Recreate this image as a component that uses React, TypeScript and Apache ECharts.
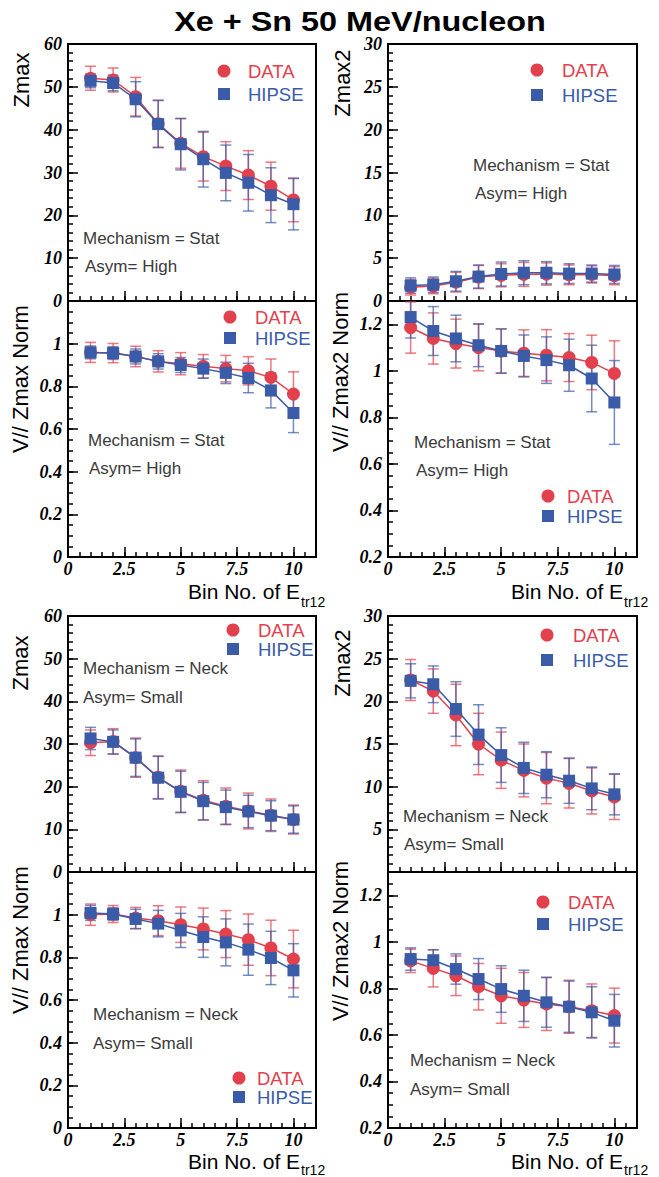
import React, { useEffect, useRef } from 'react';
import * as echarts from 'echarts';

// ---------------- data ----------------
const BINS = [1, 2, 3, 4, 5, 6, 7, 8, 9, 10];
const X_TICK_LABELS = ['0', '2.5', '5', '7.5', '10'];

// Mechanism = Stat, Asym = High
const STAT_ZMAX_DATA = [52.0, 51.6, 47.7, 41.4, 36.8, 33.7, 31.5, 29.4, 26.8, 23.6];
const STAT_ZMAX_DATA_ERR = [2.8, 2.8, 4.5, 5.5, 5.8, 5.7, 5.7, 5.7, 5.6, 5.1];
const STAT_ZMAX_HIPSE = [51.4, 50.9, 47.1, 41.3, 36.6, 33.1, 29.9, 27.6, 24.7, 22.6];
const STAT_ZMAX_HIPSE_ERR = [1.6, 1.8, 4.1, 5.5, 6.0, 6.5, 6.5, 6.6, 6.4, 6.0];

const STAT_VNORM_DATA = [0.959, 0.956, 0.94, 0.917, 0.906, 0.894, 0.883, 0.873, 0.842, 0.764];
const STAT_VNORM_DATA_ERR = [0.047, 0.045, 0.048, 0.05, 0.052, 0.055, 0.062, 0.066, 0.086, 0.104];
const STAT_VNORM_HIPSE = [0.959, 0.956, 0.94, 0.917, 0.9, 0.883, 0.863, 0.839, 0.781, 0.675];
const STAT_VNORM_HIPSE_ERR = [0.03, 0.03, 0.035, 0.036, 0.035, 0.045, 0.05, 0.069, 0.082, 0.092];

const STAT_ZMAX2_DATA = [1.6, 1.75, 2.2, 2.8, 3.0, 3.1, 3.15, 3.05, 3.1, 2.95];
const STAT_ZMAX2_DATA_ERR = [0.9, 0.9, 1.15, 1.35, 1.35, 1.4, 1.3, 1.15, 1.0, 1.05];
const STAT_ZMAX2_HIPSE = [1.8, 1.9, 2.3, 2.85, 3.15, 3.3, 3.3, 3.2, 3.2, 3.1];
const STAT_ZMAX2_HIPSE_ERR = [0.9, 0.9, 1.15, 1.35, 1.4, 1.4, 1.3, 1.15, 1.0, 1.05];

const STAT_VNORM2_DATA = [1.186, 1.139, 1.117, 1.1, 1.085, 1.076, 1.067, 1.057, 1.036, 0.989];
const STAT_VNORM2_DATA_ERR = [0.11, 0.11, 0.105, 0.1, 0.095, 0.1, 0.11, 0.103, 0.117, 0.14];
const STAT_VNORM2_HIPSE = [1.231, 1.171, 1.139, 1.11, 1.085, 1.064, 1.046, 1.024, 0.967, 0.864];
const STAT_VNORM2_HIPSE_ERR = [0.09, 0.105, 0.1, 0.092, 0.095, 0.09, 0.1, 0.112, 0.143, 0.18];

// Mechanism = Neck, Asym = Small
const NECK_ZMAX_DATA = [30.3, 30.6, 26.8, 22.2, 18.9, 16.8, 15.4, 14.3, 13.3, 12.3];
const NECK_ZMAX_DATA_ERR = [3.0, 3.0, 4.6, 5.0, 5.0, 4.6, 4.3, 4.2, 3.8, 3.4];
const NECK_ZMAX_HIPSE = [31.3, 30.5, 26.8, 22.1, 18.8, 16.6, 15.2, 14.2, 13.2, 12.3];
const NECK_ZMAX_HIPSE_ERR = [2.6, 2.8, 4.4, 5.0, 4.8, 4.4, 4.0, 3.8, 3.5, 3.2];

const NECK_VNORM_DATA = [1.0, 1.003, 0.984, 0.972, 0.953, 0.933, 0.909, 0.883, 0.844, 0.792];
const NECK_VNORM_DATA_ERR = [0.05, 0.04, 0.05, 0.07, 0.083, 0.098, 0.11, 0.12, 0.13, 0.135];
const NECK_VNORM_HIPSE = [1.008, 1.003, 0.98, 0.958, 0.926, 0.895, 0.87, 0.836, 0.797, 0.739];
const NECK_VNORM_HIPSE_ERR = [0.035, 0.03, 0.045, 0.062, 0.08, 0.095, 0.11, 0.12, 0.125, 0.125];

const NECK_ZMAX2_DATA = [22.5, 21.2, 18.4, 15.0, 13.1, 11.9, 11.0, 10.4, 9.5, 8.8];
const NECK_ZMAX2_DATA_ERR = [2.4, 2.6, 3.6, 3.6, 3.3, 3.1, 3.0, 2.9, 2.7, 2.65];
const NECK_ZMAX2_HIPSE = [22.4, 22.0, 19.1, 16.1, 13.7, 12.2, 11.4, 10.7, 9.8, 9.1];
const NECK_ZMAX2_HIPSE_ERR = [2.0, 2.15, 3.2, 3.5, 3.2, 3.0, 2.7, 2.65, 2.5, 2.4];

const NECK_VNORM2_DATA = [0.918, 0.886, 0.854, 0.807, 0.768, 0.75, 0.733, 0.721, 0.704, 0.683];
const NECK_VNORM2_DATA_ERR = [0.05, 0.08, 0.085, 0.1, 0.118, 0.118, 0.114, 0.114, 0.115, 0.118];
const NECK_VNORM2_HIPSE = [0.926, 0.921, 0.883, 0.84, 0.797, 0.768, 0.74, 0.721, 0.697, 0.661];
const NECK_VNORM2_HIPSE_ERR = [0.048, 0.045, 0.065, 0.088, 0.1, 0.11, 0.107, 0.11, 0.11, 0.113];

// ---------------- styles ----------------
const RED = '#e2404d';
const BLUE = '#3a5ba8';
const RED_ERR = 'rgba(226,64,77,0.7)';
const BLUE_ERR = 'rgba(58,91,168,0.7)';
const TEXT_GRAY = '#3a3a3a';
const SANS = "'Liberation Sans', Arial, sans-serif";
const SERIF = "'Liberation Serif', 'Times New Roman', serif";

type YSpec = { min: number; max: number; interval: number; minor: number; hideAbove: number; hideZero: boolean };
const Y_ZMAX: YSpec = { min: 0, max: 60, interval: 10, minor: 2, hideAbove: 61, hideZero: false };
const Y_NORM: YSpec = { min: 0, max: 1.2, interval: 0.2, minor: 0.05, hideAbove: 1.1, hideZero: false };
const Y_ZMAX2: YSpec = { min: 0, max: 30, interval: 5, minor: 1, hideAbove: 31, hideZero: false };
const Y_ZMAX2_B: YSpec = { min: 0, max: 30, interval: 5, minor: 1, hideAbove: 31, hideZero: true };
const Y_NORM2: YSpec = { min: 0.2, max: 1.3, interval: 0.2, minor: 0.05, hideAbove: 1.25, hideZero: false };

const COL_L = { left: 68, width: 248 };
const COL_R = { left: 388, width: 249 };
const ROWS = [
  { top: 44, height: 257 },
  { top: 301, height: 256 },
  { top: 616, height: 256 },
  { top: 872, height: 256 },
];

const PANELS = [
  { data: STAT_ZMAX_DATA, dataErr: STAT_ZMAX_DATA_ERR, hipse: STAT_ZMAX_HIPSE, hipseErr: STAT_ZMAX_HIPSE_ERR, y: Y_ZMAX,
    col: COL_L, row: ROWS[0], xLabels: false, yName: 'Zmax', yNamePos: [21, 80], leg: [224, 71, 94, 248], mech: 'Stat', asym: 'High', anno: [83, 238, 85, 266] },
  { data: STAT_VNORM_DATA, dataErr: STAT_VNORM_DATA_ERR, hipse: STAT_VNORM_HIPSE, hipseErr: STAT_VNORM_HIPSE_ERR, y: Y_NORM,
    col: COL_L, row: ROWS[1], xLabels: true, yName: 'V// Zmax Norm', yNamePos: [20, 379], leg: [230, 317, 338, 255], mech: 'Stat', asym: 'High', anno: [88, 440, 89, 468] },
  { data: STAT_ZMAX2_DATA, dataErr: STAT_ZMAX2_DATA_ERR, hipse: STAT_ZMAX2_HIPSE, hipseErr: STAT_ZMAX2_HIPSE_ERR, y: Y_ZMAX2,
    col: COL_R, row: ROWS[0], xLabels: false, yName: 'Zmax2', yNamePos: [342, 83], leg: [537, 70, 95, 562], mech: 'Stat', asym: 'High', anno: [473, 165, 475, 193] },
  { data: STAT_VNORM2_DATA, dataErr: STAT_VNORM2_DATA_ERR, hipse: STAT_VNORM2_HIPSE, hipseErr: STAT_VNORM2_HIPSE_ERR, y: Y_NORM2,
    col: COL_R, row: ROWS[1], xLabels: true, yName: 'V// Zmax2 Norm', yNamePos: [340, 372], leg: [548, 496, 516, 567], mech: 'Stat', asym: 'High', anno: [414, 442, 416, 470] },
  { data: NECK_ZMAX_DATA, dataErr: NECK_ZMAX_DATA_ERR, hipse: NECK_ZMAX_HIPSE, hipseErr: NECK_ZMAX_HIPSE_ERR, y: Y_ZMAX,
    col: COL_L, row: ROWS[2], xLabels: false, yName: 'Zmax', yNamePos: [20, 663], leg: [233, 630, 649, 258], mech: 'Neck', asym: 'Small', anno: [83, 668, 83, 697] },
  { data: NECK_VNORM_DATA, dataErr: NECK_VNORM_DATA_ERR, hipse: NECK_VNORM_HIPSE, hipseErr: NECK_VNORM_HIPSE_ERR, y: Y_NORM,
    col: COL_L, row: ROWS[3], xLabels: true, yName: 'V// Zmax Norm', yNamePos: [20, 940], leg: [239, 1078, 1097, 257], mech: 'Neck', asym: 'Small', anno: [93, 1014, 93, 1043] },
  { data: NECK_ZMAX2_DATA, dataErr: NECK_ZMAX2_DATA_ERR, hipse: NECK_ZMAX2_HIPSE, hipseErr: NECK_ZMAX2_HIPSE_ERR, y: Y_ZMAX2_B,
    col: COL_R, row: ROWS[2], xLabels: false, yName: 'Zmax2', yNamePos: [342, 663], leg: [547, 635, 660, 573], mech: 'Neck', asym: 'Small', anno: [403, 816, 404, 844] },
  { data: NECK_VNORM2_DATA, dataErr: NECK_VNORM2_DATA_ERR, hipse: NECK_VNORM2_HIPSE, hipseErr: NECK_VNORM2_HIPSE_ERR, y: Y_NORM2,
    col: COL_R, row: ROWS[3], xLabels: true, yName: 'V// Zmax2 Norm', yNamePos: [340, 941], leg: [543, 902, 924, 568], mech: 'Neck', asym: 'Small', anno: [410, 1060, 410, 1089] },
];

// [x, y of main text, y of subscript]
const X_NAMES = [
  [188, 591, 602], [511, 591, 602], [188, 1161, 1169.5], [511, 1161, 1169.5],
];

function errSeries(axisIdx: number, vals: number[], errs: number[], color: string, z: number) {
  return {
    type: 'custom',
    xAxisIndex: axisIdx,
    yAxisIndex: axisIdx,
    clip: true,
    silent: true,
    z,
    data: vals.map((v, i) => [BINS[i], v - errs[i], v + errs[i]]),
    encode: { x: 0, y: [1, 2] },
    renderItem: (params: any, api: any) => {
      const x = api.value(0);
      const p1 = api.coord([x, api.value(1)]);
      const p2 = api.coord([x, api.value(2)]);
      const w = 5.5;
      const st = { stroke: color, lineWidth: 1.5 };
      return {
        type: 'group',
        children: [
          { type: 'line', shape: { x1: p1[0], y1: p1[1], x2: p2[0], y2: p2[1] }, style: st },
          { type: 'line', shape: { x1: p1[0] - w, y1: p1[1], x2: p1[0] + w, y2: p1[1] }, style: st },
          { type: 'line', shape: { x1: p2[0] - w, y1: p2[1], x2: p2[0] + w, y2: p2[1] }, style: st },
        ],
      };
    },
  };
}

function fmtNum(v: number) {
  return String(Math.round(v * 100) / 100);
}

function buildOption(subOffset: number) {
  const grids: any[] = [];
  const xAxes: any[] = [];
  const yAxes: any[] = [];
  const series: any[] = [];
  const graphic: any[] = [];

  const labelFont = { fontFamily: SERIF, fontWeight: 'bold', fontStyle: 'italic', fontSize: 18, color: '#000' };

  PANELS.forEach((p, i) => {
    grids.push({
      left: p.col.left, width: p.col.width, top: p.row.top, height: p.row.height,
      show: true, borderColor: '#000', borderWidth: 2, backgroundColor: 'transparent', containLabel: false,
    });
    xAxes.push({
      gridIndex: i, type: 'value', min: 0, max: 11, interval: 2.5, position: 'bottom',
      axisLine: { show: true, onZero: false, lineStyle: { color: '#000', width: 2 } },
      axisTick: { show: true, inside: true, length: 10, lineStyle: { color: '#000', width: 1.5 } },
      splitLine: { show: false },
      axisLabel: {
        show: p.xLabels, margin: 3, ...labelFont,
        formatter: (v: number) => (v > 10.5 ? '' : X_TICK_LABELS[Math.round(v / 2.5)] ?? ''),
      },
    });
    xAxes.push({
      gridIndex: i, type: 'value', min: 0, max: 11, interval: 0.5, position: 'bottom',
      axisLine: { show: false, onZero: false },
      axisTick: { show: true, inside: true, length: 5, lineStyle: { color: '#000', width: 1.5 } },
      splitLine: { show: false },
      axisLabel: { show: false },
    });
    const ys = p.y;
    yAxes.push({
      gridIndex: i, type: 'value', min: ys.min, max: ys.max, interval: ys.interval, position: 'left',
      axisLine: { show: true, onZero: false, lineStyle: { color: '#000', width: 2 } },
      axisTick: { show: true, inside: true, length: 10, lineStyle: { color: '#000', width: 1.5 } },
      splitLine: { show: false },
      axisLabel: {
        show: true, margin: 6, ...labelFont,
        formatter: (v: number) => (v > ys.hideAbove || (ys.hideZero && Math.abs(v) < 1e-9) ? '' : fmtNum(v)),
      },
    });
    yAxes.push({
      gridIndex: i, type: 'value', min: ys.min, max: ys.max, interval: ys.minor, position: 'left',
      axisLine: { show: false, onZero: false },
      axisTick: { show: true, inside: true, length: 5, lineStyle: { color: '#000', width: 1.5 } },
      splitLine: { show: false },
      axisLabel: { show: false },
    });

    const ax = i * 2;
    series.push(errSeries(ax, p.data, p.dataErr, RED_ERR, 2));
    series.push(errSeries(ax, p.hipse, p.hipseErr, BLUE_ERR, 3));
    series.push({
      type: 'line', xAxisIndex: ax, yAxisIndex: ax, silent: true, z: 4,
      data: BINS.map((b, k) => [b, p.data[k]]),
      symbol: 'circle', symbolSize: 13, showSymbol: true,
      lineStyle: { color: RED, width: 1.5 }, itemStyle: { color: RED, opacity: 1 },
    });
    series.push({
      type: 'line', xAxisIndex: ax, yAxisIndex: ax, silent: true, z: 5,
      data: BINS.map((b, k) => [b, p.hipse[k]]),
      symbol: 'rect', symbolSize: 12, showSymbol: true,
      lineStyle: { color: BLUE, width: 1.5 }, itemStyle: { color: BLUE, opacity: 1 },
    });

    graphic.push({
      type: 'text', x: p.yNamePos[0], y: p.yNamePos[1], rotation: Math.PI / 2,
      style: { text: p.yName, font: `22px ${SANS}`, fill: '#000', align: 'center', verticalAlign: 'middle' },
    });
    const [lx, ly1, ly2, ltx] = p.leg;
    graphic.push({ type: 'circle', shape: { cx: lx, cy: ly1, r: 6.5 }, style: { fill: RED } });
    graphic.push({ type: 'rect', shape: { x: lx - 6, y: ly2 - 6, width: 12, height: 12 }, style: { fill: BLUE } });
    graphic.push({ type: 'text', x: ltx, y: ly1, style: { text: 'DATA', font: `18.5px ${SANS}`, fill: RED, align: 'left', verticalAlign: 'middle' } });
    graphic.push({ type: 'text', x: ltx, y: ly2, style: { text: 'HIPSE', font: `18.5px ${SANS}`, fill: BLUE, align: 'left', verticalAlign: 'middle' } });
    graphic.push({ type: 'text', x: p.anno[0], y: p.anno[1], style: { text: `Mechanism = ${p.mech}`, font: `17px ${SANS}`, fill: TEXT_GRAY, align: 'left', verticalAlign: 'middle' } });
    graphic.push({ type: 'text', x: p.anno[2], y: p.anno[3], style: { text: `Asym= ${p.asym}`, font: `17px ${SANS}`, fill: TEXT_GRAY, align: 'left', verticalAlign: 'middle' } });
  });

  X_NAMES.forEach(([x, y, ys]) => {
    graphic.push({ type: 'text', x, y, style: { text: 'Bin No. of E', font: `21px ${SANS}`, fill: '#000', align: 'left', verticalAlign: 'middle' } });
    graphic.push({ type: 'text', x: x + subOffset + 1, y: ys, style: { text: 'tr12', font: `14px ${SANS}`, fill: '#000', align: 'left', verticalAlign: 'middle' } });
  });

  graphic.push({
    type: 'text', x: 360, y: 21, scaleX: 1.2,
    style: { text: 'Xe + Sn 50 MeV/nucleon', font: `bold 27px ${SANS}`, fill: '#000', align: 'center', verticalAlign: 'middle' },
  });

  return {
    animation: false,
    backgroundColor: '#fff',
    grid: grids,
    xAxis: xAxes,
    yAxis: yAxes,
    series,
    graphic,
  };
}

export default function App() {
  const ref = useRef<HTMLDivElement>(null);
  useEffect(() => {
    if (!ref.current) return;
    let subOffset = 112;
    try {
      const ctx = document.createElement('canvas').getContext('2d');
      if (ctx) {
        ctx.font = `21px ${SANS}`;
        subOffset = ctx.measureText('Bin No. of E').width;
      }
    } catch (e) {
      /* ignore */
    }
    const chart = echarts.init(ref.current, undefined, { renderer: 'svg' });
    chart.setOption(buildOption(subOffset) as any);
    return () => chart.dispose();
  }, []);
  return (
    <div
      ref={ref}
      style={{ position: 'absolute', left: 0, top: 0, width: 659, height: 1177, background: '#fff' }}
    />
  );
}
